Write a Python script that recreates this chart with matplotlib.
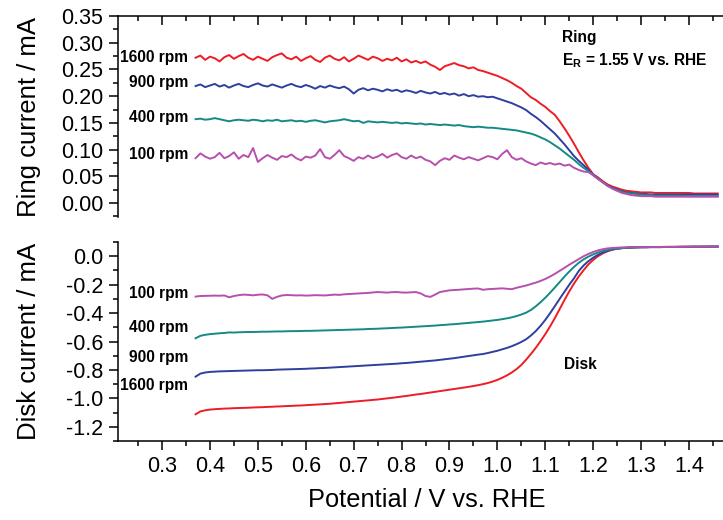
import numpy as np
import matplotlib
matplotlib.use("Agg")
import matplotlib.pyplot as plt
from matplotlib.ticker import MultipleLocator, FormatStrFormatter

plt.rcParams['font.family'] = ['Liberation Sans', 'DejaVu Sans']
plt.rcParams['mathtext.fontset'] = 'custom'
plt.rcParams['mathtext.bf'] = 'Liberation Sans:bold'
plt.rcParams['mathtext.rm'] = 'Liberation Sans'

# potential grid (V vs. RHE), 0.37 ... 1.46 in 0.01 steps
potential = np.round(np.arange(0.37, 1.465, 0.01), 2)

speeds = ['1600 rpm', '900 rpm', '400 rpm', '100 rpm']
colors = ['#ee1c25', '#2f3f9e', '#138a84', '#b64fae']

# ring current / mA
ring_1600 = [0.272, 0.276, 0.268, 0.274, 0.271, 0.265, 0.273, 0.277, 0.270, 0.275,
             0.279, 0.272, 0.268, 0.274, 0.270, 0.266, 0.273, 0.277, 0.280, 0.272,
             0.269, 0.274, 0.266, 0.271, 0.275, 0.268, 0.264, 0.272, 0.276, 0.270,
             0.267, 0.273, 0.265, 0.270, 0.276, 0.272, 0.268, 0.274, 0.271, 0.266,
             0.270, 0.267, 0.272, 0.265, 0.269, 0.263, 0.266, 0.262, 0.265, 0.259,
             0.255, 0.249, 0.256, 0.259, 0.262, 0.258, 0.256, 0.252, 0.254, 0.249,
             0.247, 0.244, 0.241, 0.238, 0.234, 0.230, 0.225, 0.219, 0.214, 0.206,
             0.198, 0.193, 0.186, 0.180, 0.172, 0.165, 0.153, 0.140, 0.126, 0.111,
             0.095, 0.080, 0.066, 0.054, 0.048, 0.041, 0.035, 0.031, 0.028, 0.025,
             0.023, 0.022, 0.021, 0.020, 0.020, 0.020, 0.019, 0.019, 0.019, 0.019,
             0.019, 0.019, 0.019, 0.019, 0.018, 0.018, 0.018, 0.018, 0.018, 0.018]
ring_900 = [0.219, 0.222, 0.217, 0.220, 0.223, 0.218, 0.221, 0.216, 0.220, 0.223,
            0.219, 0.217, 0.221, 0.224, 0.220, 0.218, 0.222, 0.219, 0.216, 0.220,
            0.223, 0.219, 0.217, 0.221, 0.218, 0.214, 0.219, 0.216, 0.220, 0.217,
            0.215, 0.218, 0.213, 0.205, 0.212, 0.215, 0.211, 0.214, 0.212, 0.209,
            0.213, 0.210, 0.212, 0.208, 0.211, 0.209, 0.206, 0.210, 0.207, 0.205,
            0.208, 0.204, 0.206, 0.203, 0.205, 0.201, 0.204, 0.200, 0.202, 0.199,
            0.200, 0.198, 0.199, 0.196, 0.193, 0.190, 0.187, 0.183, 0.179, 0.174,
            0.167, 0.161, 0.154, 0.146, 0.138, 0.130, 0.120, 0.110, 0.099, 0.088,
            0.079, 0.071, 0.062, 0.053, 0.046, 0.039, 0.033, 0.029, 0.025, 0.022,
            0.020, 0.019, 0.018, 0.017, 0.017, 0.016, 0.016, 0.016, 0.016, 0.016,
            0.016, 0.016, 0.016, 0.016, 0.016, 0.016, 0.016, 0.016, 0.016, 0.016]
ring_400 = [0.157, 0.158, 0.156, 0.157, 0.159, 0.157, 0.155, 0.153, 0.155, 0.156,
            0.155, 0.154, 0.156, 0.155, 0.153, 0.155, 0.154, 0.156, 0.153, 0.154,
            0.155, 0.153, 0.154, 0.152, 0.154, 0.155, 0.153, 0.151, 0.153, 0.154,
            0.155, 0.157, 0.155, 0.153, 0.154, 0.150, 0.153, 0.152, 0.151, 0.152,
            0.151, 0.150, 0.151, 0.149, 0.150, 0.149, 0.148, 0.149, 0.147, 0.148,
            0.147, 0.146, 0.147, 0.146, 0.145, 0.146, 0.144, 0.143, 0.142, 0.143,
            0.142, 0.141, 0.141, 0.140, 0.139, 0.138, 0.137, 0.136, 0.134, 0.132,
            0.130, 0.127, 0.123, 0.119, 0.114, 0.108, 0.102, 0.095, 0.088, 0.081,
            0.073, 0.066, 0.060, 0.053, 0.046, 0.039, 0.033, 0.028, 0.024, 0.021,
            0.019, 0.018, 0.017, 0.016, 0.015, 0.015, 0.014, 0.014, 0.014, 0.014,
            0.014, 0.014, 0.013, 0.013, 0.013, 0.013, 0.013, 0.013, 0.013, 0.013]
ring_100 = [0.084, 0.093, 0.087, 0.083, 0.086, 0.094, 0.084, 0.088, 0.095, 0.083,
            0.090, 0.086, 0.103, 0.077, 0.084, 0.090, 0.085, 0.081, 0.088, 0.086,
            0.091, 0.084, 0.080, 0.087, 0.085, 0.089, 0.101, 0.086, 0.083, 0.090,
            0.099, 0.088, 0.084, 0.079, 0.086, 0.083, 0.089, 0.084, 0.087, 0.092,
            0.085, 0.090, 0.093, 0.086, 0.083, 0.089, 0.084, 0.087, 0.081, 0.078,
            0.071, 0.079, 0.084, 0.081, 0.089, 0.085, 0.082, 0.086, 0.083, 0.080,
            0.084, 0.088, 0.086, 0.082, 0.092, 0.099, 0.086, 0.081, 0.084, 0.078,
            0.074, 0.071, 0.076, 0.073, 0.075, 0.072, 0.074, 0.070, 0.072, 0.066,
            0.062, 0.059, 0.058, 0.052, 0.045, 0.039, 0.032, 0.027, 0.023, 0.019,
            0.017, 0.015, 0.014, 0.013, 0.013, 0.013, 0.012, 0.012, 0.012, 0.012,
            0.012, 0.012, 0.012, 0.012, 0.012, 0.012, 0.012, 0.012, 0.012, 0.012]

# disk current / mA
disk_1600 = [-1.112, -1.092, -1.084, -1.079, -1.076, -1.074, -1.072, -1.071, -1.069, -1.068,
             -1.067, -1.066, -1.064, -1.063, -1.062, -1.060, -1.059, -1.057, -1.056, -1.054,
             -1.053, -1.051, -1.050, -1.048, -1.046, -1.044, -1.042, -1.040, -1.038, -1.035,
             -1.032, -1.029, -1.026, -1.023, -1.020, -1.017, -1.014, -1.011, -1.008, -1.004,
             -1.000, -0.996, -0.992, -0.987, -0.983, -0.978, -0.973, -0.969, -0.964, -0.959,
             -0.954, -0.949, -0.944, -0.939, -0.934, -0.929, -0.924, -0.919, -0.913, -0.907,
             -0.900, -0.892, -0.882, -0.870, -0.855, -0.838, -0.818, -0.794, -0.765, -0.728,
             -0.688, -0.645, -0.598, -0.548, -0.494, -0.435, -0.372, -0.308, -0.248, -0.192,
             -0.142, -0.098, -0.058, -0.026, 0.000, 0.020, 0.035, 0.046, 0.053, 0.057,
             0.060, 0.062, 0.063, 0.064, 0.064, 0.065, 0.065, 0.065, 0.066, 0.066,
             0.066, 0.066, 0.067, 0.067, 0.067, 0.067, 0.068, 0.068, 0.068, 0.068]
disk_900 = [-0.847, -0.826, -0.818, -0.814, -0.812, -0.810, -0.809, -0.808, -0.807, -0.806,
            -0.805, -0.804, -0.803, -0.802, -0.802, -0.801, -0.800, -0.798, -0.797, -0.796,
            -0.795, -0.794, -0.793, -0.792, -0.790, -0.789, -0.787, -0.786, -0.784, -0.782,
            -0.780, -0.778, -0.776, -0.774, -0.772, -0.770, -0.768, -0.766, -0.764, -0.762,
            -0.760, -0.758, -0.756, -0.753, -0.751, -0.748, -0.745, -0.742, -0.739, -0.736,
            -0.733, -0.729, -0.725, -0.721, -0.717, -0.712, -0.707, -0.702, -0.697, -0.692,
            -0.688, -0.681, -0.673, -0.665, -0.655, -0.645, -0.633, -0.619, -0.603, -0.584,
            -0.558, -0.527, -0.490, -0.448, -0.401, -0.351, -0.300, -0.250, -0.201, -0.155,
            -0.103, -0.065, -0.035, -0.010, 0.010, 0.026, 0.038, 0.047, 0.053, 0.057,
            0.059, 0.061, 0.062, 0.063, 0.063, 0.064, 0.064, 0.064, 0.065, 0.065,
            0.065, 0.066, 0.066, 0.066, 0.067, 0.067, 0.067, 0.067, 0.068, 0.068]
disk_400 = [-0.577, -0.560, -0.553, -0.548, -0.545, -0.542, -0.540, -0.536, -0.537, -0.535,
            -0.534, -0.533, -0.533, -0.532, -0.531, -0.531, -0.530, -0.529, -0.529, -0.528,
            -0.527, -0.527, -0.526, -0.525, -0.525, -0.524, -0.523, -0.522, -0.521, -0.520,
            -0.519, -0.518, -0.517, -0.516, -0.515, -0.514, -0.512, -0.511, -0.510, -0.508,
            -0.507, -0.505, -0.503, -0.502, -0.500, -0.498, -0.496, -0.494, -0.492, -0.490,
            -0.488, -0.485, -0.483, -0.480, -0.478, -0.475, -0.472, -0.469, -0.466, -0.463,
            -0.460, -0.456, -0.452, -0.448, -0.443, -0.437, -0.430, -0.421, -0.410, -0.397,
            -0.378, -0.353, -0.324, -0.292, -0.257, -0.220, -0.182, -0.144, -0.108, -0.075,
            -0.046, -0.022, -0.003, 0.013, 0.026, 0.036, 0.044, 0.050, 0.054, 0.057,
            0.059, 0.061, 0.062, 0.063, 0.063, 0.064, 0.064, 0.064, 0.065, 0.065,
            0.065, 0.066, 0.066, 0.066, 0.067, 0.067, 0.067, 0.067, 0.068, 0.068]
disk_100 = [-0.284, -0.280, -0.279, -0.278, -0.277, -0.278, -0.276, -0.289, -0.280, -0.274,
            -0.270, -0.272, -0.275, -0.271, -0.269, -0.275, -0.300, -0.286, -0.276, -0.273,
            -0.274, -0.276, -0.275, -0.277, -0.276, -0.274, -0.275, -0.276, -0.273, -0.270,
            -0.272, -0.268, -0.266, -0.264, -0.262, -0.260, -0.258, -0.255, -0.252, -0.254,
            -0.256, -0.253, -0.252, -0.255, -0.256, -0.254, -0.252, -0.262, -0.280, -0.286,
            -0.270, -0.252, -0.246, -0.240, -0.238, -0.236, -0.233, -0.231, -0.228, -0.227,
            -0.236, -0.232, -0.230, -0.228, -0.226, -0.229, -0.232, -0.222, -0.214, -0.206,
            -0.196, -0.186, -0.174, -0.160, -0.143, -0.124, -0.103, -0.082, -0.060, -0.040,
            -0.020, 0.000, 0.016, 0.030, 0.041, 0.049, 0.055, 0.058, 0.060, 0.062,
            0.063, 0.063, 0.064, 0.064, 0.064, 0.065, 0.065, 0.065, 0.065, 0.066,
            0.066, 0.066, 0.066, 0.067, 0.067, 0.067, 0.067, 0.068, 0.068, 0.068]

ring = [ring_1600, ring_900, ring_400, ring_100]
disk = [disk_1600, disk_900, disk_400, disk_100]

# label heights (data units) for the rpm tags
ring_tag_y = [0.272, 0.226, 0.160, 0.090]
disk_tag_y = [-0.91, -0.71, -0.50, -0.26]

fig = plt.figure(figsize=(7.23, 5.2), dpi=100)
ax1 = fig.add_axes([0.1632, 0.5827, 0.8368, 0.3865])
ax2 = fig.add_axes([0.1632, 0.1519, 0.8368, 0.3827])

for i in range(4):
    ax1.plot(potential, ring[i], color=colors[i], lw=1.4)
    ax2.plot(potential, disk[i], color=colors[i], lw=1.4)
    ax1.text(0.355, ring_tag_y[i], speeds[i], ha='right', va='center',
             fontsize=11.2, fontweight='bold')
    ax2.text(0.355, disk_tag_y[i], speeds[i], ha='right', va='center',
             fontsize=11.2, fontweight='bold')

ax1.text(1.135, 0.309, 'Ring', fontsize=11.2, fontweight='bold', va='center')
ax1.text(1.135, 0.266, r'$\mathbf{E_R}$ = 1.55 V vs. RHE', fontsize=11.2,
         fontweight='bold', va='center')
ax2.text(1.14, -0.765, 'Disk', fontsize=11.2, fontweight='bold', va='center')

xlim = (0.208, 1.471)

# top panel: left + top spines
ax1.set_xlim(*xlim)
ax1.set_ylim(-0.026, 0.35)
ax1.spines['right'].set_visible(False)
ax1.spines['bottom'].set_visible(False)
ax1.xaxis.set_ticks_position('top')
ax1.xaxis.set_major_locator(MultipleLocator(0.1))
ax1.xaxis.set_minor_locator(MultipleLocator(0.05))
ax1.tick_params(axis='x', which='both', direction='in', labeltop=False, labelbottom=False)
ax1.yaxis.set_major_locator(MultipleLocator(0.05))
ax1.yaxis.set_minor_locator(MultipleLocator(0.025))
ax1.yaxis.set_major_formatter(FormatStrFormatter('%.2f'))
ax1.set_ylabel('Ring current / mA', fontsize=18.5)
ax1.yaxis.set_label_coords(-0.128, 0.5)

# bottom panel: left + bottom spines
ax2.set_xlim(*xlim)
ax2.set_ylim(-1.3, 0.1)
ax2.spines['right'].set_visible(False)
ax2.spines['top'].set_visible(False)
ax2.xaxis.set_major_locator(MultipleLocator(0.1))
ax2.xaxis.set_minor_locator(MultipleLocator(0.05))
ax2.yaxis.set_major_locator(MultipleLocator(0.2))
ax2.yaxis.set_minor_locator(MultipleLocator(0.1))
ax2.xaxis.set_major_formatter(FormatStrFormatter('%.1f'))
ax2.yaxis.set_major_formatter(FormatStrFormatter('%.1f'))
ax2.set_xticks([0.3, 0.4, 0.5, 0.6, 0.7, 0.8, 0.9, 1.0, 1.1, 1.2, 1.3, 1.4])
ax2.set_ylabel('Disk current / mA', fontsize=18.5)
ax2.yaxis.set_label_coords(-0.128, 0.5)
ax2.set_xlabel('Potential / V vs. RHE', fontsize=18.3)
ax2.xaxis.set_label_coords(0.51, -0.235)

for ax in (ax1, ax2):
    for s in ax.spines.values():
        s.set_linewidth(1.1)
    ax.tick_params(which='major', length=6.5, width=1.1, labelsize=15.5, pad=4)
    ax.tick_params(which='minor', length=3.5, width=1.1)
    ax.patch.set_alpha(0)

fig.savefig('out.png', dpi=100)
